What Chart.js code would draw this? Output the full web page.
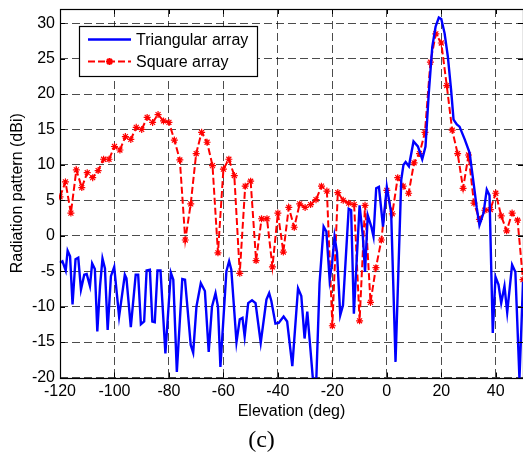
<!DOCTYPE html>
<html>
<head>
<meta charset="utf-8">
<script src="https://cdn.jsdelivr.net/npm/chart.js@4.4.1/dist/chart.umd.min.js"></script>
<style>
  html, body { margin: 0; padding: 0; background: #fff; overflow: hidden; }
  #chart { display: block; }
</style>
</head>
<body>
<canvas id="chart" width="523" height="459"></canvas>
<script>
// radiation pattern data

var xTicks = [-120, -100, -80, -60, -40, -20, 0, 20, 40];
var yTicks = [-20, -15, -10, -5, 0, 5, 10, 15, 20, 25, 30];

// Triangular array (solid blue)
var triX = [-120, -119.1, -117.9, -117.2, -116.3, -115.4, -114.3, -113.3, -112.3, -111.1,
  -110.2, -109, -108.2, -107.2, -106.3, -105.3, -104.4, -103.5, -102.5, -101.3,
  -100.1, -98.3, -96.2, -95.6, -94, -92.2, -91.3, -90.3, -89.1, -88.2,
  -87, -86.1, -85.2, -84.2, -83.1, -81.3, -79.3, -78.4, -77.1, -75.1,
  -74.1, -72, -71.1, -69.9, -68.3, -66.8, -65.4, -64.2, -62.9, -62,
  -61.1, -58.9, -57.9, -57.1, -55.2, -54, -53, -52.2, -50.9, -49.5,
  -48.2, -46.3, -44.2, -43.2, -42.4, -40.9, -39.7, -37.9, -36.6, -34.7,
  -32.6, -31.4, -30.2, -29.2, -27.1, -25.9, -24.7, -23.2, -22.2, -21,
  -20.1, -19.2, -18.3, -17.1, -16.1, -14, -13.1, -12.1, -10, -8.8,
  -8, -7, -5.7, -4.9, -3.9, -2.9, -1.4, 0, 1.6, 3.2,
  5.3, 6.1, 6.9, 8.1, 9.8, 11.4, 13, 14.2, 15.4, 16.7,
  17.9, 19.1, 20, 21.2, 22.4, 23.6, 24.5, 25.7, 26.7, 28.6,
  30.4, 32, 33, 34, 35.5, 36.7, 37.7, 38.9, 39.9, 41,
  42, 43.2, 44.2, 46, 47.2, 48.7, 49.3, 50];
var triY = [-3.8, -3.6, -4.9, -2.1, -2.9, -9.7, -3.3, -3.1, -7.6, -5.5,
  -5.4, -7.1, -3.9, -4.7, -13.5, -7.1, -3.2, -4.6, -13.3, -5.7,
  -4.4, -11.4, -5.5, -6.0, -12.9, -5.5, -5.5, -12.5, -12.1, -4.9,
  -4.8, -12.1, -12.2, -4.9, -4.9, -16.6, -5.2, -6.2, -19.2, -6.1,
  -6.2, -15.4, -16.5, -10, -6.7, -7.8, -16.4, -10, -8.1, -10,
  -18.5, -5.0, -3.6, -4.8, -15.0, -11.8, -11.6, -14.2, -9.5, -9.1,
  -9.5, -15.1, -9.0, -8.1, -9.2, -12.4, -12.3, -11.4, -12.1, -18.4,
  -7.4, -8.5, -14.5, -10.7, -20.4, -20.4, -6.7, 1.3, 0.6, -6.2,
  -3.9, -0.1, -2.3, -11.2, -9.8, 3.8, 3.6, -11.0, 4.3, -0.1,
  -5.1, 2.9, 1.3, -0.1, 6.7, 6.9, 1.3, 6.9, 3.2, -17.8,
  7.9, 10.0, 10.4, 9.8, 13.3, 12.6, 10.8, 12.6, 20.1, 26.7,
  29.5, 30.8, 30.6, 28.6, 25.3, 20.6, 16.4, 15.7, 15.4, 13.6,
  11.7, 7.0, 4.0, 1.5, 3.2, 6.5, 5.7, -13.7, -5.8, -6.9,
  -9.5, -7.1, -10.8, -4.1, -5.1, -20.2, -14, -6.5];

// Square array (dashed red with star markers)
var sqX = [-120, -118, -116, -114, -112, -110, -108, -106, -104, -102,
  -100, -98, -96, -94, -92, -90, -88, -86, -84, -82,
  -80, -78, -76, -74, -72, -70, -68, -66, -64, -62,
  -60, -58, -56, -54, -52, -50, -48, -46, -44, -42,
  -40, -38, -36, -34, -32, -30, -28, -26, -24, -22,
  -20, -18, -16, -14, -12, -10, -8, -6, -4, -2,
  0, 2, 4, 6, 8, 10, 12, 14, 16, 18,
  20, 22, 24, 26, 28, 30, 32, 34, 36, 38,
  40, 42, 44, 46, 48, 50];
var sqY = [5.5, 7.6, 3.2, 9.3, 6.8, 8.9, 8.2, 9.2, 10.8, 10.8,
  12.6, 12.1, 14.0, 13.6, 15.3, 15.0, 16.7, 16.0, 17.1, 16.2,
  16.0, 13.5, 10.7, -0.6, 4.5, 11.6, 14.6, 13.2, 9.9, -2.4,
  9.4, 10.8, 8.5, -5.3, 7.0, 7.7, -3.5, 2.4, 2.4, -4.4,
  3.2, -2.3, 4.0, 1.2, 4.5, 4.0, 4.4, 5.1, 7.0, 6.3,
  -12.7, 6.1, 5.0, 4.6, 4.4, -12.0, 4.3, -9.4, -4.5, -0.6,
  6.4, 3.1, 8.2, 7.0, 6.0, 10.3, 11.6, 14.6, 24.5, 28.5,
  27.2, 21.2, 14.9, 11.6, 6.7, 11.4, 4.6, 2.3, 3.6, 3.7,
  6.0, 2.8, 0.7, 3.2, 2.2, -6.2];

var FONT = 'Liberation Sans, Arial, sans-serif';

function pts(xs, ys) {
  return xs.map(function (x, i) { return { x: x, y: ys[i] }; });
}

// axes box + inward ticks (matlab style)
var framePlugin = {
  id: 'frame',
  afterDatasetsDraw: function (chart) {
    var ctx = chart.ctx, a = chart.chartArea;
    var sx = chart.scales.x, sy = chart.scales.y;
    var tl = 5;
    ctx.save();
    ctx.strokeStyle = '#000';
    ctx.lineWidth = 1;
    ctx.setLineDash([]);
    ctx.beginPath();
    xTicks.forEach(function (v) {
      var px = Math.round(sx.getPixelForValue(v)) + 0.5;
      ctx.moveTo(px, a.bottom); ctx.lineTo(px, a.bottom - tl);
      ctx.moveTo(px, a.top); ctx.lineTo(px, a.top + tl);
    });
    yTicks.forEach(function (v) {
      var py = Math.round(sy.getPixelForValue(v)) + 0.5;
      ctx.moveTo(a.left, py); ctx.lineTo(a.left + tl, py);
      ctx.moveTo(a.right, py); ctx.lineTo(a.right - tl, py);
    });
    ctx.stroke();
    ctx.lineWidth = 1.2;
    ctx.strokeRect(Math.round(a.left) + 0.5, Math.round(a.top) + 0.5,
      Math.round(a.right - a.left), Math.round(a.bottom - a.top));
    ctx.restore();
  }
};

// legend box in the upper left corner of the plot
var legendPlugin = {
  id: 'boxLegend',
  afterDraw: function (chart) {
    var ctx = chart.ctx, a = chart.chartArea;
    var x0 = a.left + 19, y0 = a.top + 17, w = 178, h = 50;
    ctx.save();
    ctx.fillStyle = '#fff';
    ctx.fillRect(x0, y0, w, h);
    ctx.strokeStyle = '#000';
    ctx.lineWidth = 1.2;
    ctx.setLineDash([]);
    ctx.strokeRect(x0 + 0.5, y0 + 0.5, w, h);
    chart.data.datasets.forEach(function (ds, i) {
      var y = y0 + 13.5 + i * 22;
      ctx.strokeStyle = ds.borderColor;
      ctx.lineWidth = ds.borderWidth;
      ctx.setLineDash(ds.borderDash || []);
      ctx.beginPath();
      ctx.moveTo(x0 + 9, y); ctx.lineTo(x0 + 52, y);
      ctx.stroke();
      ctx.setLineDash([]);
      if (ds.pointRadius > 0) {
        Chart.helpers.drawPoint(ctx, {
          pointStyle: ds.pointStyle, radius: ds.pointRadius,
          borderWidth: ds.pointBorderWidth, rotation: 0
        }, x0 + 30.5, y);
      }
      ctx.fillStyle = '#000';
      ctx.font = '16px ' + FONT;
      ctx.textBaseline = 'middle';
      ctx.fillText(ds.label, x0 + 57, y + 1);
    });
    ctx.restore();
  }
};

new Chart(document.getElementById('chart'), {
  type: 'line',
  data: {
    datasets: [{
      label: 'Triangular array',
      data: pts(triX, triY),
      borderColor: '#0000ff',
      backgroundColor: '#0000ff',
      borderWidth: 2.4,
      pointRadius: 0,
      tension: 0,
      clip: 1
    }, {
      label: 'Square array',
      data: pts(sqX, sqY),
      borderColor: '#ff0000',
      backgroundColor: '#ff0000',
      borderWidth: 2,
      borderDash: [7, 3],
      pointStyle: 'star',
      pointRadius: 3.5,
      pointBorderWidth: 1.2,
      pointBorderColor: '#ff0000',
      tension: 0,
      clip: 1
    }]
  },
  options: {
    responsive: false,
    animation: false,
    layout: { autoPadding: false, padding: { top: 9, right: 0, left: 0, bottom: 0 } },
    plugins: {
      legend: { display: false },
      tooltip: { enabled: false },
      title: {
        display: true,
        position: 'bottom',
        text: '(c)',
        color: '#000',
        font: { family: 'Liberation Serif, Times New Roman, serif', size: 24, weight: 'normal' },
        padding: { top: 2, bottom: 4 }
      }
    },
    scales: {
      x: {
        type: 'linear',
        min: -120,
        max: 50,
        afterBuildTicks: function (s) { s.ticks = xTicks.map(function (v) { return { value: v }; }); },
        afterFit: function (s) { s.height = 46.7; s.paddingLeft = 0; s.paddingRight = 0; },
        grid: { color: 'rgba(0,0,0,0.7)', lineWidth: 1, drawTicks: false },
        border: { display: false, dash: [8, 4] },
        ticks: { color: '#000', font: { family: FONT, size: 16 }, padding: 4, maxRotation: 0 },
        title: {
          display: true,
          text: 'Elevation (deg)',
          color: '#000',
          font: { family: FONT, size: 16 },
          padding: { top: 0, bottom: 3 }
        }
      },
      y: {
        min: -20,
        max: 32,
        afterBuildTicks: function (s) { s.ticks = yTicks.map(function (v) { return { value: v }; }); },
        afterFit: function (s) { s.width = 60; s.paddingTop = 0; s.paddingBottom = 0; },
        grid: { color: 'rgba(0,0,0,0.7)', lineWidth: 1, drawTicks: false },
        border: { display: false, dash: [8, 4] },
        ticks: { color: '#000', font: { family: FONT, size: 16 }, padding: 5 },
        title: {
          display: true,
          text: 'Radiation pattern (dBi)',
          color: '#000',
          font: { family: FONT, size: 16 },
          padding: { top: 8, bottom: 0 }
        }
      }
    }
  },
  plugins: [framePlugin, legendPlugin]
});
</script>
</body>
</html>
